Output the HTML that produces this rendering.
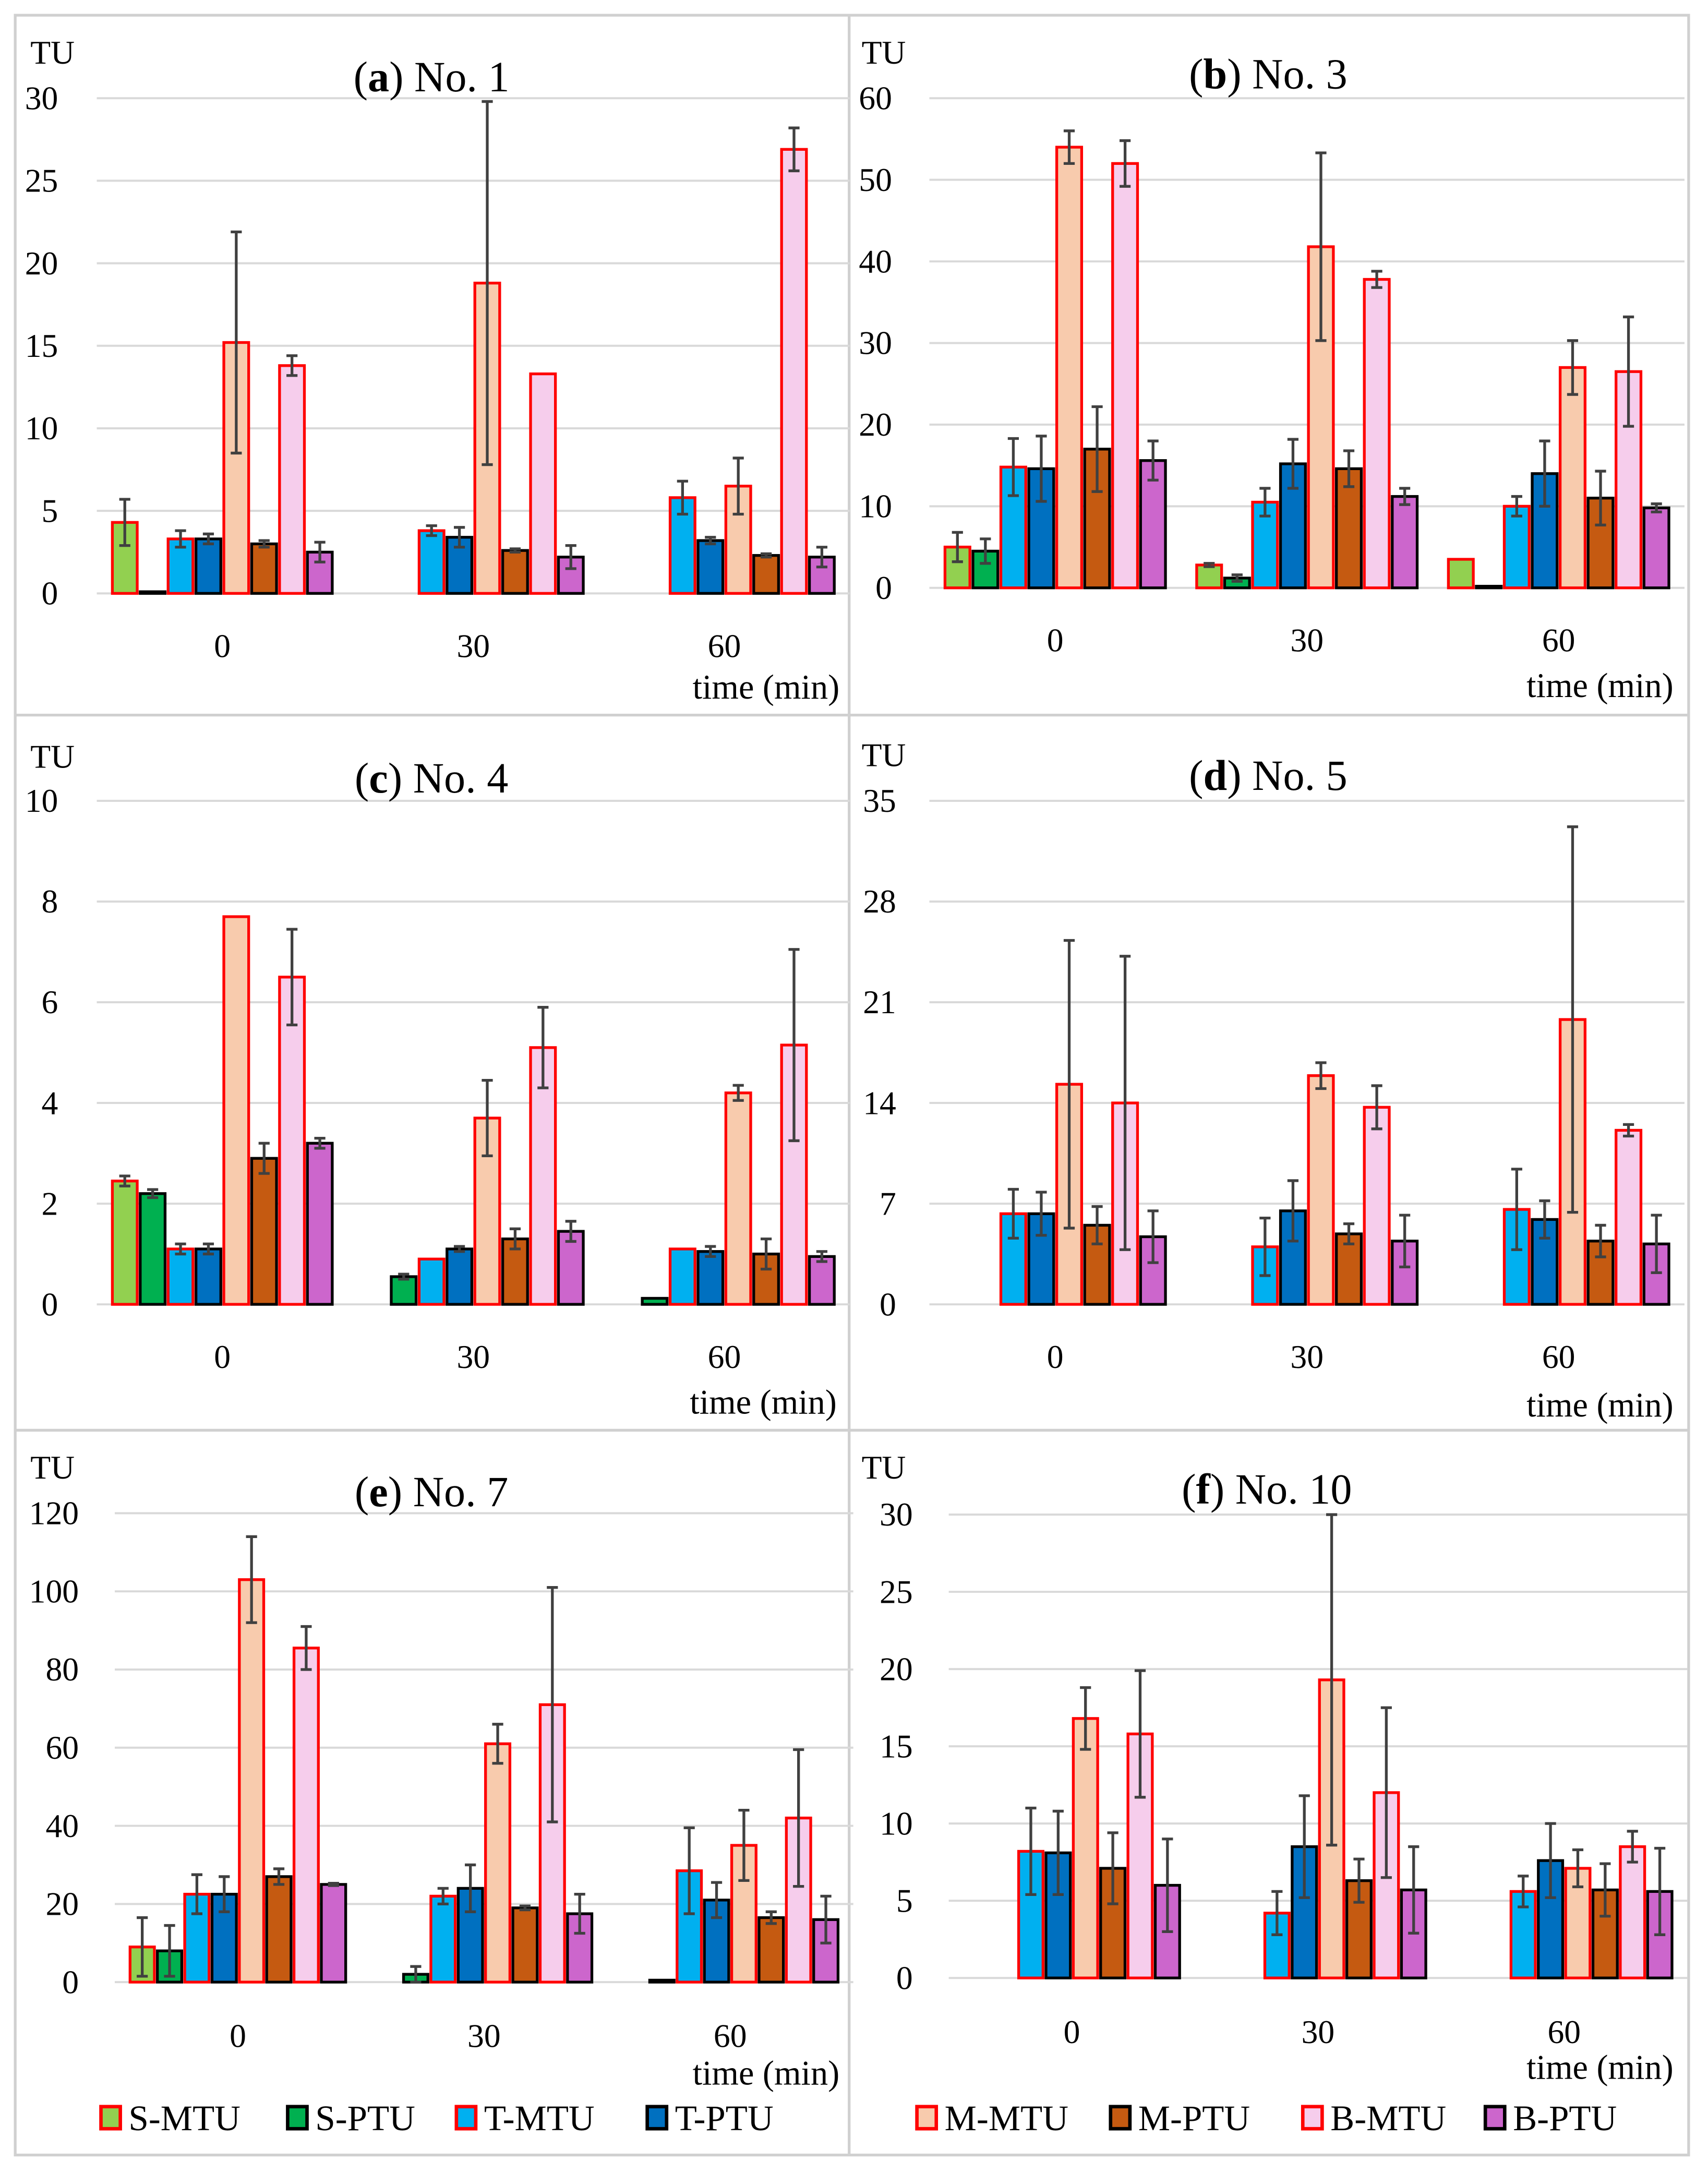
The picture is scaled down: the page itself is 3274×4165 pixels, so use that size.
<!DOCTYPE html>
<html><head><meta charset="utf-8"><style>
html,body{margin:0;padding:0;background:#fff;}
svg{display:block;}
text{font-family:"Liberation Serif",serif;fill:#000;}
</style></head><body>
<svg id="fig" width="3274" height="4165" viewBox="0 0 1235 1571" preserveAspectRatio="none" xmlns="http://www.w3.org/2000/svg"></svg>
<script>
const categories = ["0","30","60"];
const seriesNames = ["S-MTU","S-PTU","T-MTU","T-PTU","M-MTU","M-PTU","B-MTU","B-PTU"];
const fills = ["#92d050","#00b050","#00b0f0","#0070c0","#f8cbad","#c55a11","#f6cdec","#cc66cc"];
const strokes = ["#ff0000","#000","#ff0000","#000","#ff0000","#000","#ff0000","#000"];
// values[series][category]
const valsA = [[4.3,0,0],[0.1,0,0],[3.3,3.8,5.8],[3.3,3.4,3.2],[15.2,18.8,6.5],[3.0,2.6,2.3],[13.8,13.3,26.9],[2.5,2.2,2.2]];
const errA  = [[1.4,0,0],[0,0,0],[0.5,0.3,1.0],[0.3,0.6,0.2],[6.7,11,1.7],[0.2,0.1,0.1],[0.6,0,1.3],[0.6,0.7,0.6]];
const valsB = [[5,2.8,3.5],[4.5,1.2,0.2],[14.8,10.5,10],[14.6,15.2,14],[54,41.8,27],[17,14.6,11],[52,37.8,26.5],[15.6,11.2,9.8]];
const errB  = [[1.8,0.2,0],[1.5,0.4,0],[3.5,1.7,1.2],[4,3,4],[2,11.5,3.3],[5.2,2.2,3.3],[2.8,1,6.7],[2.4,1,0.5]];
const valsC = [[2.45,0,0],[2.2,0.55,0.12],[1.1,0.9,1.1],[1.1,1.1,1.05],[7.7,3.7,4.2],[2.9,1.3,1.0],[6.5,5.1,5.15],[3.2,1.45,0.95]];
const errC  = [[0.1,0,0],[0.08,0.05,0],[0.1,0,0],[0.1,0.05,0.1],[0,0.75,0.15],[0.3,0.2,0.3],[0.95,0.8,1.9],[0.1,0.2,0.1]];
const valsD = [[0,0,0],[0,0,0],[6.3,4,6.6],[6.3,6.5,5.9],[15.3,15.9,19.8],[5.5,4.9,4.4],[14,13.7,12.1],[4.7,4.4,4.2]];
const errD  = [[0,0,0],[0,0,0],[1.7,2,2.8],[1.5,2.1,1.3],[10,0.9,13.4],[1.3,0.7,1.1],[10.2,1.5,0.4],[1.8,1.8,2]];
const valsE = [[9,0,0],[8,2,0.5],[22.5,22,28.5],[22.5,24,21],[103,61,35],[27,19,16.5],[85.5,71,42],[25,17.5,16]];
const errE  = [[7.5,0,0],[6.5,2,0],[5,2,11],[4.5,6,4.5],[11,5,9],[2,0.5,1.5],[5.5,30,17.5],[0.3,5,6]];
const valsF = [[0,0,0],[0,0,0],[8.2,4.2,5.6],[8.1,8.5,7.6],[16.8,19.3,7.1],[7.1,6.3,5.7],[15.8,12,8.5],[6,5.7,5.6]];
const errF  = [[0,0,0],[0,0,0],[2.8,1.4,1],[2.7,3.3,2.4],[2,10.7,1.2],[2.3,1.4,1.7],[4.1,5.5,1],[3,2.8,2.8]];
const tickMaxes = [30,60,10,35,120,30];
const tickSteps = [5,10,2,7,20,5];

const NS="http://www.w3.org/2000/svg";
const svg=document.getElementById('fig');
function el(tag,attrs,parent){const e=document.createElementNS(NS,tag);for(const k in attrs)e.setAttribute(k,attrs[k]);(parent||svg).appendChild(e);return e;}

const frame=el('g',{});


el('rect',{x:11,y:11,width:1210,height:1547,fill:'none',stroke:'#d0d0d0','stroke-width':2},frame);
el('line',{x1:614,y1:11,x2:614,y2:1558,stroke:'#d0d0d0','stroke-width':2},frame);
el('line',{x1:11,y1:517,x2:1221,y2:517,stroke:'#d0d0d0','stroke-width':2},frame);
el('line',{x1:11,y1:1034,x2:1221,y2:1034,stroke:'#d0d0d0','stroke-width':2},frame);

const panels=[
 {k:'a',name:'No. 1',vals:valsA,err:errA,left:70,sp:181.5,base:429,top:71,lblR:42,xl:475,tx:312,ty:66,tux:22,tuy:46,timeX:607,timeY:505},
 {k:'b',name:'No. 3',vals:valsB,err:errB,left:672,sp:182,base:425,top:71,lblR:645,xl:471,tx:917,ty:64,tux:623,tuy:46,timeX:1210,timeY:504},
 {k:'c',name:'No. 4',vals:valsC,err:errC,left:70,sp:181.5,base:943,top:579,lblR:42,xl:989,tx:312,ty:573,tux:22,tuy:555,timeX:605,timeY:1022},
 {k:'d',name:'No. 5',vals:valsD,err:errD,left:672,sp:182,base:943,top:579,lblR:648,xl:989,tx:917,ty:571,tux:623,tuy:554,timeX:1210,timeY:1024},
 {k:'e',name:'No. 7',vals:valsE,err:errE,left:83,sp:178,base:1433,top:1094,lblR:57,xl:1480,tx:312,ty:1089,tux:22,tuy:1069,timeX:607,timeY:1507},
 {k:'f',name:'No. 10',vals:valsF,err:errF,left:686,sp:178,base:1430,top:1095,lblR:660,xl:1477,tx:916,ty:1087,tux:623,tuy:1069,timeX:1210,timeY:1503}
];

panels.forEach((p,pi)=>{
  const max=tickMaxes[pi], step=tickSteps[pi];
  const g=el('g',{});
  
  
  const y=v=>p.base-(v/max)*(p.base-p.top);
  const right=p.left+3*p.sp;
  for(let t=0;t<=max+1e-9;t+=step){
    const gl=el('line',{x1:p.left,x2:right,y1:y(t),y2:y(t),stroke:'#d9d9d9','stroke-width':1.5},g);
    
    
    const tl=el('text',{x:p.lblR,y:y(t)+8,'text-anchor':'end','font-size':24},g);
    tl.textContent=t;
    
    
  }
  const tu=el('text',{x:p.tux,y:p.tuy,'font-size':24},g);tu.textContent='TU';
  
  
  const ti=el('text',{x:p.tx,y:p.ty,'text-anchor':'middle','font-size':31},g);
  ti.innerHTML='(<tspan font-weight="bold">'+p.k+'</tspan>) '+p.name;
  
  
  const tm=el('text',{x:p.timeX,y:p.timeY,'text-anchor':'end','font-size':25},g);tm.textContent='time (min)';
  
  
  const pitch=p.sp*0.111, w=p.sp*0.099;
  categories.forEach((c,ci)=>{
    const cx=p.left+p.sp*(ci+0.5);
    const xl=el('text',{x:cx,y:p.xl,'text-anchor':'middle','font-size':24},g);xl.textContent=c;
    
    
    seriesNames.forEach((s,si)=>{
      const v=p.vals[si][ci], e=p.err[si][ci];
      const bx=cx-4*pitch+si*pitch+(pitch-w)/2;
      if(v>0){
        const r=el('rect',{x:bx,y:y(v),width:w,height:p.base-y(v),fill:fills[si],stroke:strokes[si],'stroke-width':2},g);
        
        
      }
      if(e>0){
        const ex=bx+w/2;
        const eg=el('path',{d:`M${ex},${y(Math.min(v+e,max))}V${y(Math.max(v-e,0))}M${ex-4},${y(Math.min(v+e,max))}H${ex+4}M${ex-4},${y(Math.max(v-e,0))}H${ex+4}`,stroke:'#404040','stroke-width':2,fill:'none'},g);
        
        
      }
    });
  });
});

const legX=[73,208,330,468,663,803,942,1074];
const lg=el('g',{});


seriesNames.forEach((s,i)=>{
  const b=el('rect',{x:legX[i],y:1523,width:14,height:16,fill:fills[i],stroke:strokes[i],'stroke-width':2.5},lg);
  
  
  const t=el('text',{x:legX[i]+20,y:1540,'font-size':26},lg);t.textContent=s;
  
  
});
</script>
</body></html>
